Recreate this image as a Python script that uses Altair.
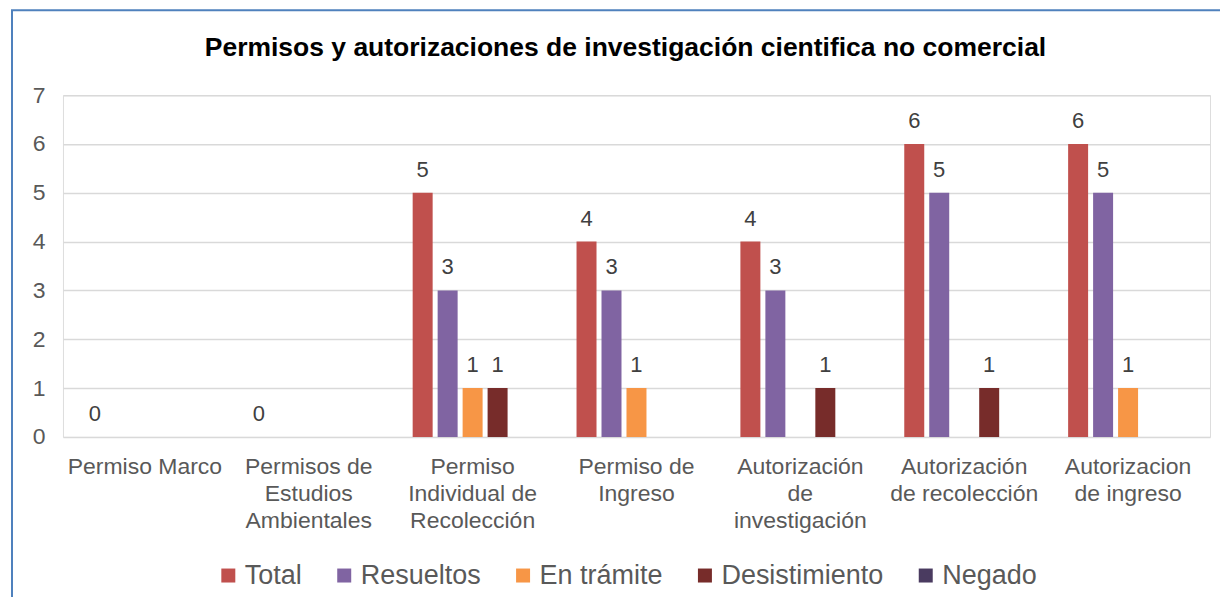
import altair as alt
import pandas as pd

categories = [
    "Permiso Marco",
    "Permisos de|Estudios|Ambientales",
    "Permiso|Individual de|Recolección",
    "Permiso de|Ingreso",
    "Autorización|de|investigación",
    "Autorización|de recolección",
    "Autorizacion|de ingreso",
]
series = ["Total", "Resueltos", "En trámite", "Desistimiento", "Negado"]
total = [0, 0, 5, 4, 4, 6, 6]
resueltos = [None, None, 3, 3, 3, 5, 5]
en_tramite = [None, None, 1, 1, None, None, 1]
desistimiento = [None, None, 1, None, 1, 1, None]
negado = [None, None, None, None, None, None, None]
colors = ["#C0504D", "#8064A2", "#F79646", "#772C2A", "#4A3B60"]
y_ticks = [0, 1, 2, 3, 4, 5, 6, 7]
title_text = "Permisos y autorizaciones de investigación cientifica  no comercial"

values = [total, resueltos, en_tramite, desistimiento, negado]
rows = []
for s, vals in zip(series, values):
    for c, v in zip(categories, vals):
        rows.append({"category": c, "series": s, "value": v})
df = pd.DataFrame(rows)

FONT = "Liberation Sans"

base = alt.Chart(df).transform_filter("isValid(datum.value)").encode(
    x=alt.X(
        "category:N",
        sort=categories,
        scale=alt.Scale(paddingInner=0, paddingOuter=0),
        axis=alt.Axis(
            title=None, labelAngle=0, labelExpr="split(datum.label, '|')",
            labelFont=FONT, labelFontSize=23, labelColor="#595959",
            labelLineHeight=27, labelPadding=19, domain=False, ticks=False,
            grid=False, labelLimit=400,
        ),
    ),
    xOffset=alt.XOffset(
        "series:N", sort=series,
        scale=alt.Scale(domain=series, paddingInner=0.2, paddingOuter=0.88),
    ),
    y=alt.Y(
        "value:Q",
        scale=alt.Scale(domain=[0, 7]),
        axis=alt.Axis(
            values=y_ticks, title=None, domain=False, ticks=False,
            gridColor="#D9D9D9", gridWidth=1.5, labelFont=FONT,
            labelFontSize=23, labelColor="#595959", labelPadding=18,
        ),
    ),
)

bars = base.mark_bar().encode(
    color=alt.Color(
        "series:N",
        scale=alt.Scale(domain=series, range=colors),
        legend=alt.Legend(
            title=None, orient="none", legendX=152, legendY=467,
            direction="horizontal", symbolType="square", symbolSize=196,
            labelFont=FONT, labelFontSize=27, labelColor="#595959",
            columnPadding=28, labelOffset=3, symbolStrokeWidth=0,
            symbolOpacity=1, labelLimit=400,
        ),
    )
)

labels = base.mark_text(
    dy=-16, baseline="alphabetic", fontSize=22, color="#404040", font=FONT
).encode(text=alt.Text("value:Q"))

border = alt.Chart(pd.DataFrame({"b": [0]})).mark_rect(
    filled=False, stroke="#4F81BD", strokeWidth=2
).encode(
    x=alt.value(-51), x2=alt.value(1300), y=alt.value(-85), y2=alt.value(700)
)

chart = alt.layer(border, bars, labels).properties(
    width=1148,
    height=342,
    title=alt.TitleParams(
        text=title_text, font=FONT, fontSize=26.5, fontWeight="bold",
        color="#000000", anchor="middle", offset=-52, dx=-11,
    ),
    autosize=alt.AutoSizeParams(type="none"),
    padding={"left": 55, "top": 87, "right": 10, "bottom": 160},
).configure_view(stroke=None).configure(font=FONT)

chart.save("out.html", embed_options={"renderer": "svg", "actions": False})
